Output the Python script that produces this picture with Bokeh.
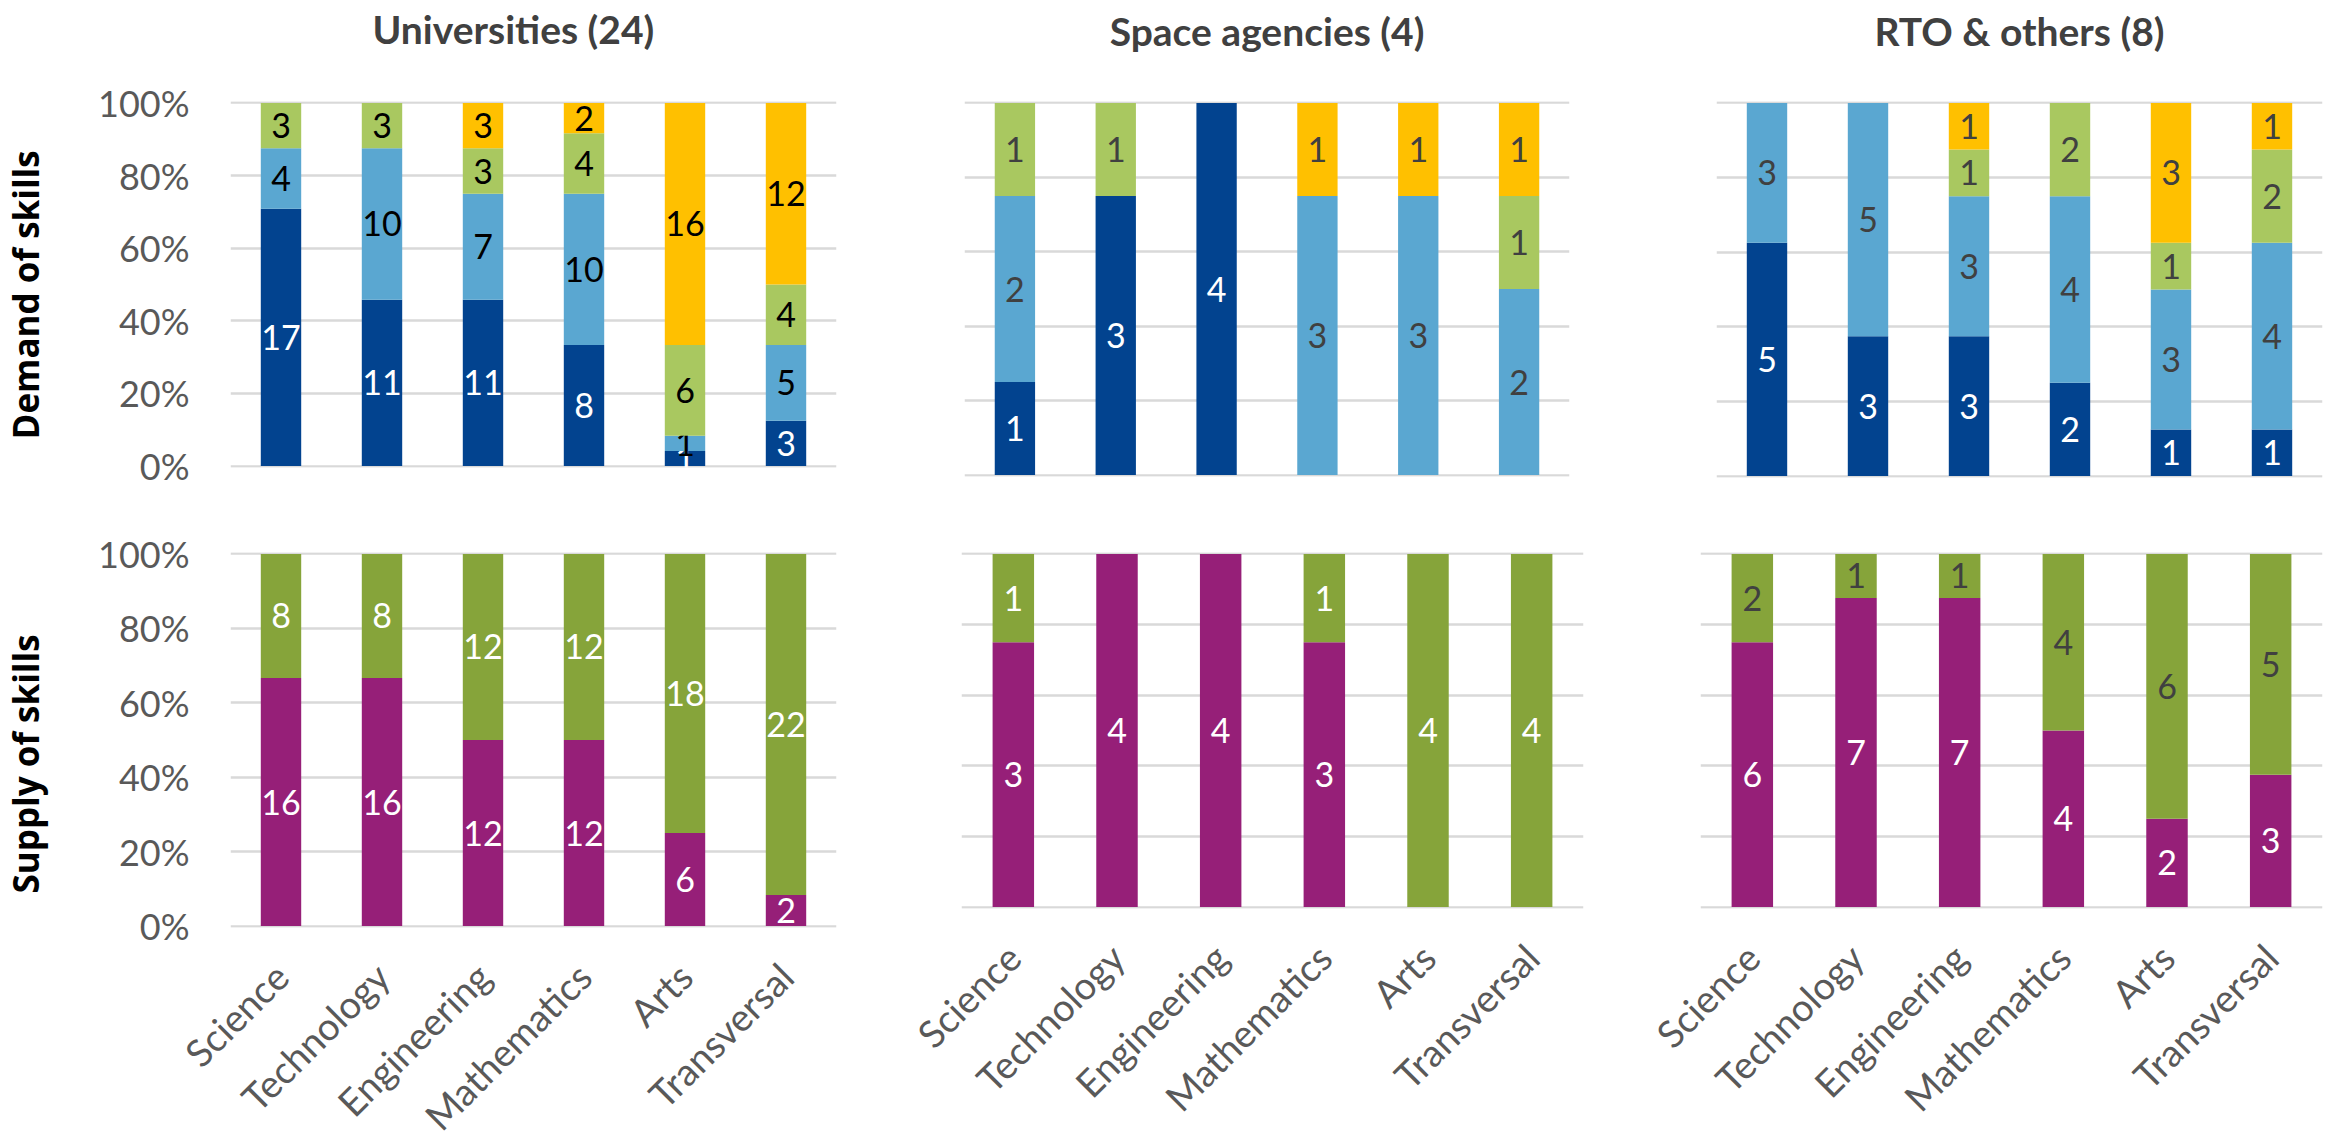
from math import pi
from bokeh.plotting import figure
from bokeh.models import FactorRange, Range1d, FixedTicker, NumeralTickFormatter, ColumnDataSource, Title
from bokeh.layouts import column, row
from bokeh.core.properties import value
from bokeh.embed import file_html
from bokeh.resources import INLINE

categories = ["Science", "Technology", "Engineering", "Mathematics", "Arts", "Transversal"]
group_titles = ["Universities (24)", "Space agencies (4)", "RTO & others (8)"]
row_titles = ["Demand of skills", "Supply of skills"]
pct_ticks = [0, 0.2, 0.4, 0.6, 0.8, 1.0]

# Demand of skills (counts, stacked bottom -> top)
uni_demand_dark = [17, 11, 11, 8, 1, 3]
uni_demand_light = [4, 10, 7, 10, 1, 5]
uni_demand_green = [3, 3, 3, 4, 6, 4]
uni_demand_yellow = [0, 0, 3, 2, 16, 12]

space_demand_dark = [1, 3, 4, 0, 0, 0]
space_demand_light = [2, 0, 0, 3, 3, 2]
space_demand_green = [1, 1, 0, 0, 0, 1]
space_demand_yellow = [0, 0, 0, 1, 1, 1]

rto_demand_dark = [5, 3, 3, 2, 1, 1]
rto_demand_light = [3, 5, 3, 4, 3, 4]
rto_demand_green = [0, 0, 1, 2, 1, 2]
rto_demand_yellow = [0, 0, 1, 0, 3, 1]

# Supply of skills (counts, stacked bottom -> top)
uni_supply_magenta = [16, 16, 12, 12, 6, 2]
uni_supply_green = [8, 8, 12, 12, 18, 22]
space_supply_magenta = [3, 4, 4, 3, 0, 0]
space_supply_green = [1, 0, 0, 1, 4, 4]
rto_supply_magenta = [6, 7, 7, 4, 2, 3]
rto_supply_green = [2, 1, 1, 4, 6, 5]

DEMAND_COLORS = ["#02438F", "#5AA7D1", "#A9C860", "#FFC000"]
SUPPLY_COLORS = ["#961F78", "#86A43A"]
GRID = "#D9D9D9"
TICK_TXT = "#595959"
DARK_TXT = "#404040"
FONT = "Lato"


def spacer(size):
    return Title(text=" ", text_font_size="1px", standoff=size)


def make_panel(series, colors, label_colors, frame, borders, title=None, title_align="center",
               title_offset=0, title_gap=37, ylabel=None, ylabel_offset=0, show_x=False):
    fw, fh = frame
    bl, br, bt, bb = borders
    p = figure(x_range=FactorRange(*categories), y_range=Range1d(-0.004, 1.004),
               frame_width=fw, frame_height=fh,
               min_border_left=bl, min_border_right=br,
               min_border_top=bt, min_border_bottom=bb,
               output_backend="svg", toolbar_location=None,
               background_fill_color="white", border_fill_color="white")
    p.x_range.range_padding = 0
    p.outline_line_color = None
    p.xgrid.grid_line_color = None
    p.ygrid.grid_line_color = GRID
    p.ygrid.grid_line_width = 2.5
    p.yaxis.ticker = FixedTicker(ticks=pct_ticks)
    p.yaxis.formatter = NumeralTickFormatter(format="0%")
    for ax in (p.xaxis, p.yaxis):
        ax.axis_line_color = None
        ax.major_tick_line_color = None
        ax.minor_tick_line_color = None
        ax.major_tick_out = 0
        ax.major_tick_in = 0
        ax.major_label_text_font = FONT
        ax.major_label_text_font_size = "36px"
        ax.major_label_text_color = TICK_TXT
    if ylabel is None:
        p.yaxis.visible = False
    else:
        p.yaxis.major_label_standoff = 41
        p.add_layout(spacer(42), "left")
        t = Title(text=ylabel, align="left", text_font="Open Sans",
                  text_font_style="bold", text_font_size="35px",
                  text_color="black", standoff=0, offset=ylabel_offset,
                  vertical_align="top")
        p.add_layout(t, "left")
    if show_x:
        p.xaxis.major_label_orientation = pi / 4
        p.xaxis.major_label_standoff = 42
        p.xaxis.major_label_text_font_size = "38px"
    else:
        p.xaxis.visible = False
    if title:
        p.add_layout(spacer(title_gap), "above")
        p.title.text = title
        p.title.align = title_align
        p.title.offset = title_offset
        p.title.standoff = 2
        p.title.vertical_align = "bottom"
        p.title.text_font = FONT
        p.title.text_font_style = "bold"
        p.title.text_font_size = "39px"
        p.title.text_color = DARK_TXT

    totals = [sum(vals) for vals in zip(*series)]
    bottoms = [0.0] * len(categories)
    for vals, col, lcol in zip(series, colors, label_colors):
        fr = [v / t for v, t in zip(vals, totals)]
        tops = [b + f for b, f in zip(bottoms, fr)]
        src = ColumnDataSource(dict(x=categories, bottom=bottoms, top=tops))
        p.vbar(x="x", bottom="bottom", top="top", width=0.4, source=src,
               fill_color=col, line_color=None)
        lx, ly, lt = [], [], []
        for c, v, b, t in zip(categories, vals, bottoms, tops):
            if v > 0:
                lx.append(c)
                ly.append((b + t) / 2)
                lt.append(str(v))
        lsrc = ColumnDataSource(dict(x=lx, y=ly, t=lt))
        p.text(x="x", y="y", text="t", source=lsrc, text_align="center",
               text_baseline="middle", text_font=value(FONT),
               text_font_size="34px", text_color=lcol)
        bottoms = tops
    return p


W = "white"
K = "black"
G = DARK_TXT

p_ud = make_panel([uni_demand_dark, uni_demand_light, uni_demand_green, uni_demand_yellow],
                  DEMAND_COLORS, [W, K, K, K], (606, 366), (230, 64, 101, 33),
                  title=group_titles[0], title_align="left", title_offset=142, title_gap=46,
                  ylabel=row_titles[0], ylabel_offset=28)
p_sd = make_panel([space_demand_dark, space_demand_light, space_demand_green, space_demand_yellow],
                  DEMAND_COLORS, [W, G, G, G], (605, 375), (64, 71, 99, 26),
                  title=group_titles[1], title_gap=44)
p_rd = make_panel([rto_demand_dark, rto_demand_light, rto_demand_green, rto_demand_yellow],
                  DEMAND_COLORS, [W, G, G, G], (606, 376), (76, 9, 99, 25),
                  title=group_titles[2], title_gap=44)

p_us = make_panel([uni_supply_magenta, uni_supply_green], SUPPLY_COLORS, [W, W],
                  (606, 375), (230, 64, 52, 214), ylabel=row_titles[1],
                  ylabel_offset=34, show_x=True)
p_ss = make_panel([space_supply_magenta, space_supply_green], SUPPLY_COLORS, [W, W],
                  (622, 356), (61, 57, 40, 245), show_x=True)
p_rs = make_panel([rto_supply_magenta, rto_supply_green], SUPPLY_COLORS, [W, G],
                  (622, 356), (60, 9, 40, 245), show_x=True)

layout = column(row(p_ud, p_sd, p_rd, spacing=0), row(p_us, p_ss, p_rs, spacing=0), spacing=0)

open("out.html", "w").write(file_html(layout, INLINE))
